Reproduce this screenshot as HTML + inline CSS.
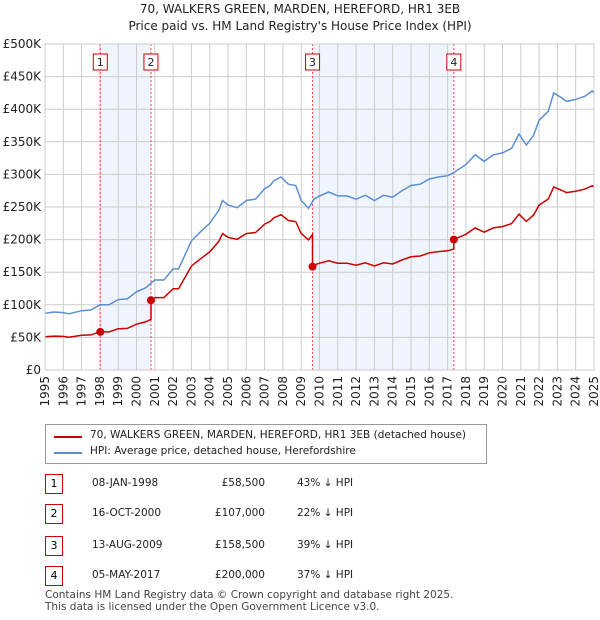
<!DOCTYPE html>
<html><head><meta charset="utf-8"><style>
body{margin:0;background:#fff;font-family:"DejaVu Sans","Liberation Sans",sans-serif;}
#wrap{position:relative;width:600px;height:620px;overflow:hidden;}
.t{position:absolute;font-size:12px;color:#222;white-space:nowrap}
.num{position:absolute;width:16px;height:18px;border:1px solid #c00;font-size:11px;text-align:center;line-height:18px;background:#fff}
svg text{font-family:"DejaVu Sans","Liberation Sans",sans-serif}
</style></head><body><div id="wrap">
<div class="t" style="left:0;width:600px;text-align:center;top:2px;font-size:12px">70, WALKERS GREEN, MARDEN, HEREFORD, HR1 3EB</div>
<div class="t" style="left:0;width:600px;text-align:center;top:19px;font-size:12px">Price paid vs. HM Land Registry's House Price Index (HPI)</div>
<svg id="c" width="600" height="420" style="position:absolute;left:0;top:0"></svg>
<div style="position:absolute;left:45px;top:424px;width:440px;height:38px;border:1px solid #999;">
 <div style="position:absolute;left:8px;top:11px;width:28px;height:2px;background:#c00"></div>
 <div class="t" style="left:44px;top:4px;font-size:10.5px">70, WALKERS GREEN, MARDEN, HEREFORD, HR1 3EB (detached house)</div>
 <div style="position:absolute;left:8px;top:27px;width:28px;height:2px;background:#5b8fd4"></div>
 <div class="t" style="left:44px;top:20px;font-size:10.5px">HPI: Average price, detached house, Herefordshire</div>
</div>
<div id="tbl"></div>
<div class="t" style="left:45px;top:589px;font-size:10.5px;color:#444;line-height:12px">Contains HM Land Registry data © Crown copyright and database right 2025.<br>This data is licensed under the Open Government Licence v3.0.</div>
</div>
<script>
const hpiYears=[1995,1995.5,1996,1996.3,1997,1997.5,1998,1998.5,1999,1999.5,2000,2000.5,2001,2001.5,2002,2002.3,2003,2003.5,2004,2004.5,2004.7,2005,2005.5,2006,2006.5,2007,2007.3,2007.5,2007.9,2008.3,2008.7,2009,2009.4,2009.7,2010,2010.5,2011,2011.5,2012,2012.5,2013,2013.5,2014,2014.5,2015,2015.5,2016,2016.5,2017,2017.3,2017.6,2018,2018.5,2019,2019.5,2020,2020.5,2020.9,2021.3,2021.7,2022,2022.5,2022.8,2023.2,2023.5,2024,2024.5,2024.9,2025];
const hpiValues=[87,89,88,86,91,92,100,100,108,109,120,126,138,138,155,155,198,212,225,245,260,253,249,260,262,278,283,290,296,285,283,260,248,262,267,273,267,267,262,268,260,268,265,275,283,285,293,296,298,302,308,315,330,320,330,333,340,362,345,360,383,397,425,418,412,415,420,428,425];
const saleDates=[1998.02,2000.79,2009.62,2017.34];
const salePrices=[58.5,107,158.5,200];
const saleLabels=["08-JAN-1998","16-OCT-2000","13-AUG-2009","05-MAY-2017"];
const salePriceText=["£58,500","£107,000","£158,500","£200,000"];
const saleDiff=["43% ↓ HPI","22% ↓ HPI","39% ↓ HPI","37% ↓ HPI"];
const yTicks=[0,50,100,150,200,250,300,350,400,450,500];
const yTickLabels=["£0","£50K","£100K","£150K","£200K","£250K","£300K","£350K","£400K","£450K","£500K"];
const xTicks=[];for(let y=1995;y<=2025;y++)xTicks.push(y);

const X0=45,X1=594,Y0=370,Y1=44;
const sx=v=>X0+(v-1995)/(2025-1995)*(X1-X0);
const sy=v=>Y0-(v/500)*(Y0-Y1);
const svg=document.getElementById('c');const NS='http://www.w3.org/2000/svg';
function mk(t,a,p){const e=document.createElementNS(NS,t);for(const k in a)e.setAttribute(k,a[k]);(p||svg).appendChild(e);return e;}
function hpiAt(t){for(let i=1;i<hpiYears.length;i++){if(t<=hpiYears[i]){const f=(t-hpiYears[i-1])/(hpiYears[i]-hpiYears[i-1]);return hpiValues[i-1]+f*(hpiValues[i]-hpiValues[i-1]);}}return hpiValues[hpiValues.length-1];}
for(let i=0;i<saleDates.length;i+=2){const r=mk('rect',{x:sx(saleDates[i]),y:Y1,width:sx(saleDates[i+1])-sx(saleDates[i]),height:Y0-Y1,fill:'#f0f4fd'});
}
yTicks.forEach((v,i)=>{const l=mk('line',{x1:X0,x2:X1,y1:sy(v),y2:sy(v),stroke:'#ccc'});
const t=mk('text',{x:X0-4,y:sy(v)+4,'text-anchor':'end','font-size':12,fill:'#222'});t.textContent=yTickLabels[i];});
xTicks.forEach(v=>{const l=mk('line',{x1:sx(v),x2:sx(v),y1:Y1,y2:Y0,stroke:'#ccc'});
const t=mk('text',{x:0,y:0,'text-anchor':'end','font-size':12,fill:'#222',transform:`translate(${sx(v)+4},${Y0+6}) rotate(-90)`});t.textContent=v;});
saleDates.forEach((d,i)=>{const l=mk('line',{x1:sx(d),x2:sx(d),y1:Y1,y2:Y0,stroke:'#f44','stroke-dasharray':'2,2'});
const r=mk('rect',{x:sx(d)-7,y:54,width:14,height:16,fill:'#fff',stroke:'#c00'});
const t=mk('text',{x:sx(d),y:66,'text-anchor':'middle','font-size':11,fill:'#222'});t.textContent=i+1;});
let p='';hpiYears.forEach((y,i)=>p+=(i?'L':'M')+sx(y).toFixed(1)+','+sy(hpiValues[i]).toFixed(1));
const hl=mk('path',{d:p,fill:'none',stroke:'#5b8fd4','stroke-width':1.5});
let pts=[];const ts=new Set(hpiYears.concat(saleDates));const all=[...ts].sort((a,b)=>a-b);
all.forEach(t=>{let k=0;for(let j=0;j<saleDates.length;j++)if(t>=saleDates[j])k=j;
 if(saleDates.includes(t)&&saleDates.indexOf(t)>0){const pk=saleDates.indexOf(t)-1;pts.push([t,hpiAt(t)*salePrices[pk]/hpiAt(saleDates[pk])]);}
 pts.push([t,hpiAt(t)*salePrices[k]/hpiAt(saleDates[k])]);});
p='';pts.forEach((q,i)=>p+=(i?'L':'M')+sx(q[0]).toFixed(1)+','+sy(q[1]).toFixed(1));
const pl=mk('path',{d:p,fill:'none',stroke:'#c00','stroke-width':1.5});
saleDates.forEach((d,i)=>{const c=mk('circle',{cx:sx(d),cy:sy(salePrices[i]),r:4,fill:'#c00'});});
mk('rect',{x:X0,y:Y1,width:X1-X0,height:Y0-Y1,fill:'none',stroke:'#ccc'});
const tb=document.getElementById('tbl');const rowsY=[474,504,536,566];
saleDates.forEach((d,i)=>{const y=rowsY[i];
 const b=document.createElement('div');b.className='num';b.style.left='45px';b.style.top=y+'px';b.textContent=i+1;
 tb.appendChild(b);
 [[92,saleLabels[i],'left'],[180,salePriceText[i],'right'],[297,saleDiff[i],'left']].forEach((c,j)=>{
  const e=document.createElement('div');e.className='t';e.style.top=(y+3)+'px';e.style.fontSize='10.5px';
  if(c[2]==='right'){e.style.left='0';e.style.width='265px';e.style.textAlign='right';}else e.style.left=c[0]+'px';
  e.textContent=c[1];
  
  tb.appendChild(e);});});
</script></body></html>
